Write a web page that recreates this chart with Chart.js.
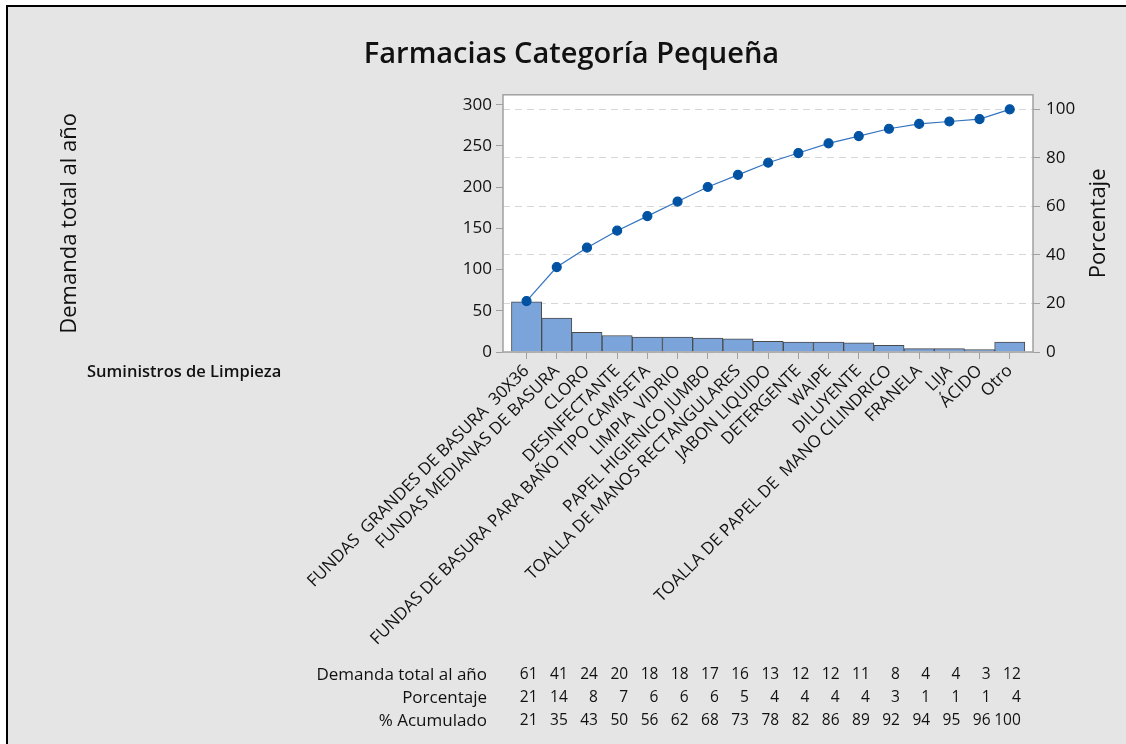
<!DOCTYPE html>
<html>
<head>
<meta charset="utf-8">
<script src="https://cdn.jsdelivr.net/npm/chart.js@4.4.0/dist/chart.umd.min.js"></script>
<style>
  body { margin: 0; background: #fff; }
  #frame { position: absolute; left: 6px; top: 5px; right: 0; bottom: 0;
           border-left: 2px solid #000; border-top: 2px solid #000; background: #e5e5e5; }
  #c { position: absolute; left: 0; top: 0; }
</style>
</head>
<body>
<div id="frame"></div>
<canvas id="c" width="1126" height="744"></canvas>
<script>
const categories = [
  'FUNDAS  GRANDES DE BASURA  30X36', 'FUNDAS MEDIANAS DE BASURA', 'CLORO', 'DESINFECTANTE',
  'FUNDAS DE BASURA PARA BAÑO TIPO CAMISETA', 'LIMPIA  VIDRIO', 'PAPEL HIGIENICO JUMBO',
  'TOALLA DE MANOS RECTANGULARES', 'JABON LIQUIDO', 'DETERGENTE', 'WAIPE', 'DILUYENTE',
  'TOALLA DE PAPEL DE  MANO CILINDRICO', 'FRANELA', 'LIJA', 'ÁCIDO', 'Otro'
];
const demanda = [61, 41, 24, 20, 18, 18, 17, 16, 13, 12, 12, 11, 8, 4, 4, 3, 12];
const porcentaje = [21, 14, 8, 7, 6, 6, 6, 5, 4, 4, 4, 4, 3, 1, 1, 1, 4];
const acumulado = [21, 35, 43, 50, 56, 62, 68, 73, 78, 82, 86, 89, 92, 94, 95, 96, 100];
const leftTicks = [0, 50, 100, 150, 200, 250, 300];
const rightTicks = [0, 20, 40, 60, 80, 100];

const FONT = "'Open Sans', 'Noto Sans', sans-serif";
const TXT = '#111';

const extras = {
  id: 'extras',
  beforeDraw(chart) {
    const {ctx, chartArea: a} = chart;
    ctx.save();
    ctx.fillStyle = '#fff';
    ctx.fillRect(a.left, a.top, a.right - a.left, a.bottom - a.top);
    ctx.restore();
  },
  afterDraw(chart) {
    const {ctx, chartArea: a} = chart;
    const xs = chart.scales.x;
    ctx.save();
    ctx.strokeStyle = '#a0a0a0';
    ctx.lineWidth = 1.5;
    ctx.strokeRect(a.left, a.top, a.right - a.left, a.bottom - a.top);

    ctx.fillStyle = TXT;
    ctx.font = '500 22px ' + FONT;
    ctx.textAlign = 'center';
    ctx.textBaseline = 'middle';
    const midY = (a.top + a.bottom) / 2;
    ctx.save(); ctx.translate(70, midY); ctx.rotate(-Math.PI / 2); ctx.fillText('Demanda total al año', 0, 0); ctx.restore();
    ctx.save(); ctx.translate(1099, midY); ctx.rotate(-Math.PI / 2); ctx.fillText('Porcentaje', 0, 0); ctx.restore();

    ctx.textAlign = 'left';
    ctx.font = '600 16.5px ' + FONT;
    ctx.fillText('Suministros de Limpieza', 87, 372);

    // tabla inferior
    const rows = [['Demanda total al año', demanda], ['Porcentaje', porcentaje], ['% Acumulado', acumulado]];
    ctx.textAlign = 'right';
    rows.forEach(([label, vals], r) => {
      const y = 675 + r * 23;
      ctx.font = '500 17px ' + FONT;
      ctx.fillText(label, 487, y);
      ctx.font = '500 15.5px ' + FONT;
      vals.forEach((v, i) => ctx.fillText(String(v), xs.getPixelForValue(i) + 11, y));
    });
    ctx.restore();
  }
};

new Chart(document.getElementById('c'), {
  type: 'bar',
  data: {
    datasets: [
      {
        type: 'line',
        data: acumulado.map((v, i) => ({x: i, y: v})),
        yAxisID: 'y2',
        borderColor: '#3574bf',
        borderWidth: 1.2,
        pointRadius: 4.5,
        pointBackgroundColor: '#0052a3',
        pointBorderColor: '#0052a3',
        order: 0
      },
      {
        data: demanda.map((v, i) => ({x: i, y: v})),
        yAxisID: 'y',
        backgroundColor: '#7ba5da',
        borderColor: '#4a4a4a',
        borderWidth: 1,
        categoryPercentage: 1,
        barPercentage: 1,
        order: 1
      }
    ]
  },
  options: {
    responsive: false,
    devicePixelRatio: 1,
    animation: false,
    events: [],
    layout: { padding: { left: 17 } },
    plugins: {
      legend: { display: false },
      tooltip: { enabled: false },
      title: {
        display: true,
        text: 'Farmacias Categoría Pequeña',
        color: TXT,
        font: { family: FONT, size: 29, weight: '600' },
        padding: { top: 37, bottom: 23 }
      }
    },
    scales: {
      x: {
        type: 'linear',
        bounds: 'data',
        offset: false,
        min: -0.78,
        max: 16.77,
        afterBuildTicks: s => { s.ticks = categories.map((c, i) => ({value: i})); },
        afterFit: s => { s.height = 392; },
        grid: { offset: false, drawOnChartArea: false, tickLength: 7, tickColor: '#a0a0a0' },
        border: { display: false },
        ticks: {
          autoSkip: false,
          minRotation: 45,
          maxRotation: 45,
          padding: 2,
          color: TXT,
          font: { family: FONT, size: 17 },
          callback: v => categories[v]
        }
      },
      y: {
        position: 'left',
        min: 0,
        max: 312,
        afterBuildTicks: s => { s.ticks = leftTicks.map(v => ({value: v})); },
        afterFit: s => { s.width = 486; },
        grid: { drawOnChartArea: false, tickLength: 7, tickColor: '#a0a0a0' },
        border: { display: false },
        ticks: { color: TXT, padding: 4, font: { family: FONT, size: 17, weight: '500' } }
      },
      y2: {
        position: 'right',
        min: 0,
        max: 106,
        afterBuildTicks: s => { s.ticks = rightTicks.map(v => ({value: v})); },
        afterFit: s => { s.width = 93; },
        grid: { color: '#d6d6d6', lineWidth: 1, tickLength: 7, tickColor: '#a0a0a0' },
        border: { display: false, dash: [7, 5] },
        ticks: { color: TXT, padding: 6, font: { family: FONT, size: 17, weight: '500' } }
      }
    }
  },
  plugins: [extras]
});
</script>
</body>
</html>
